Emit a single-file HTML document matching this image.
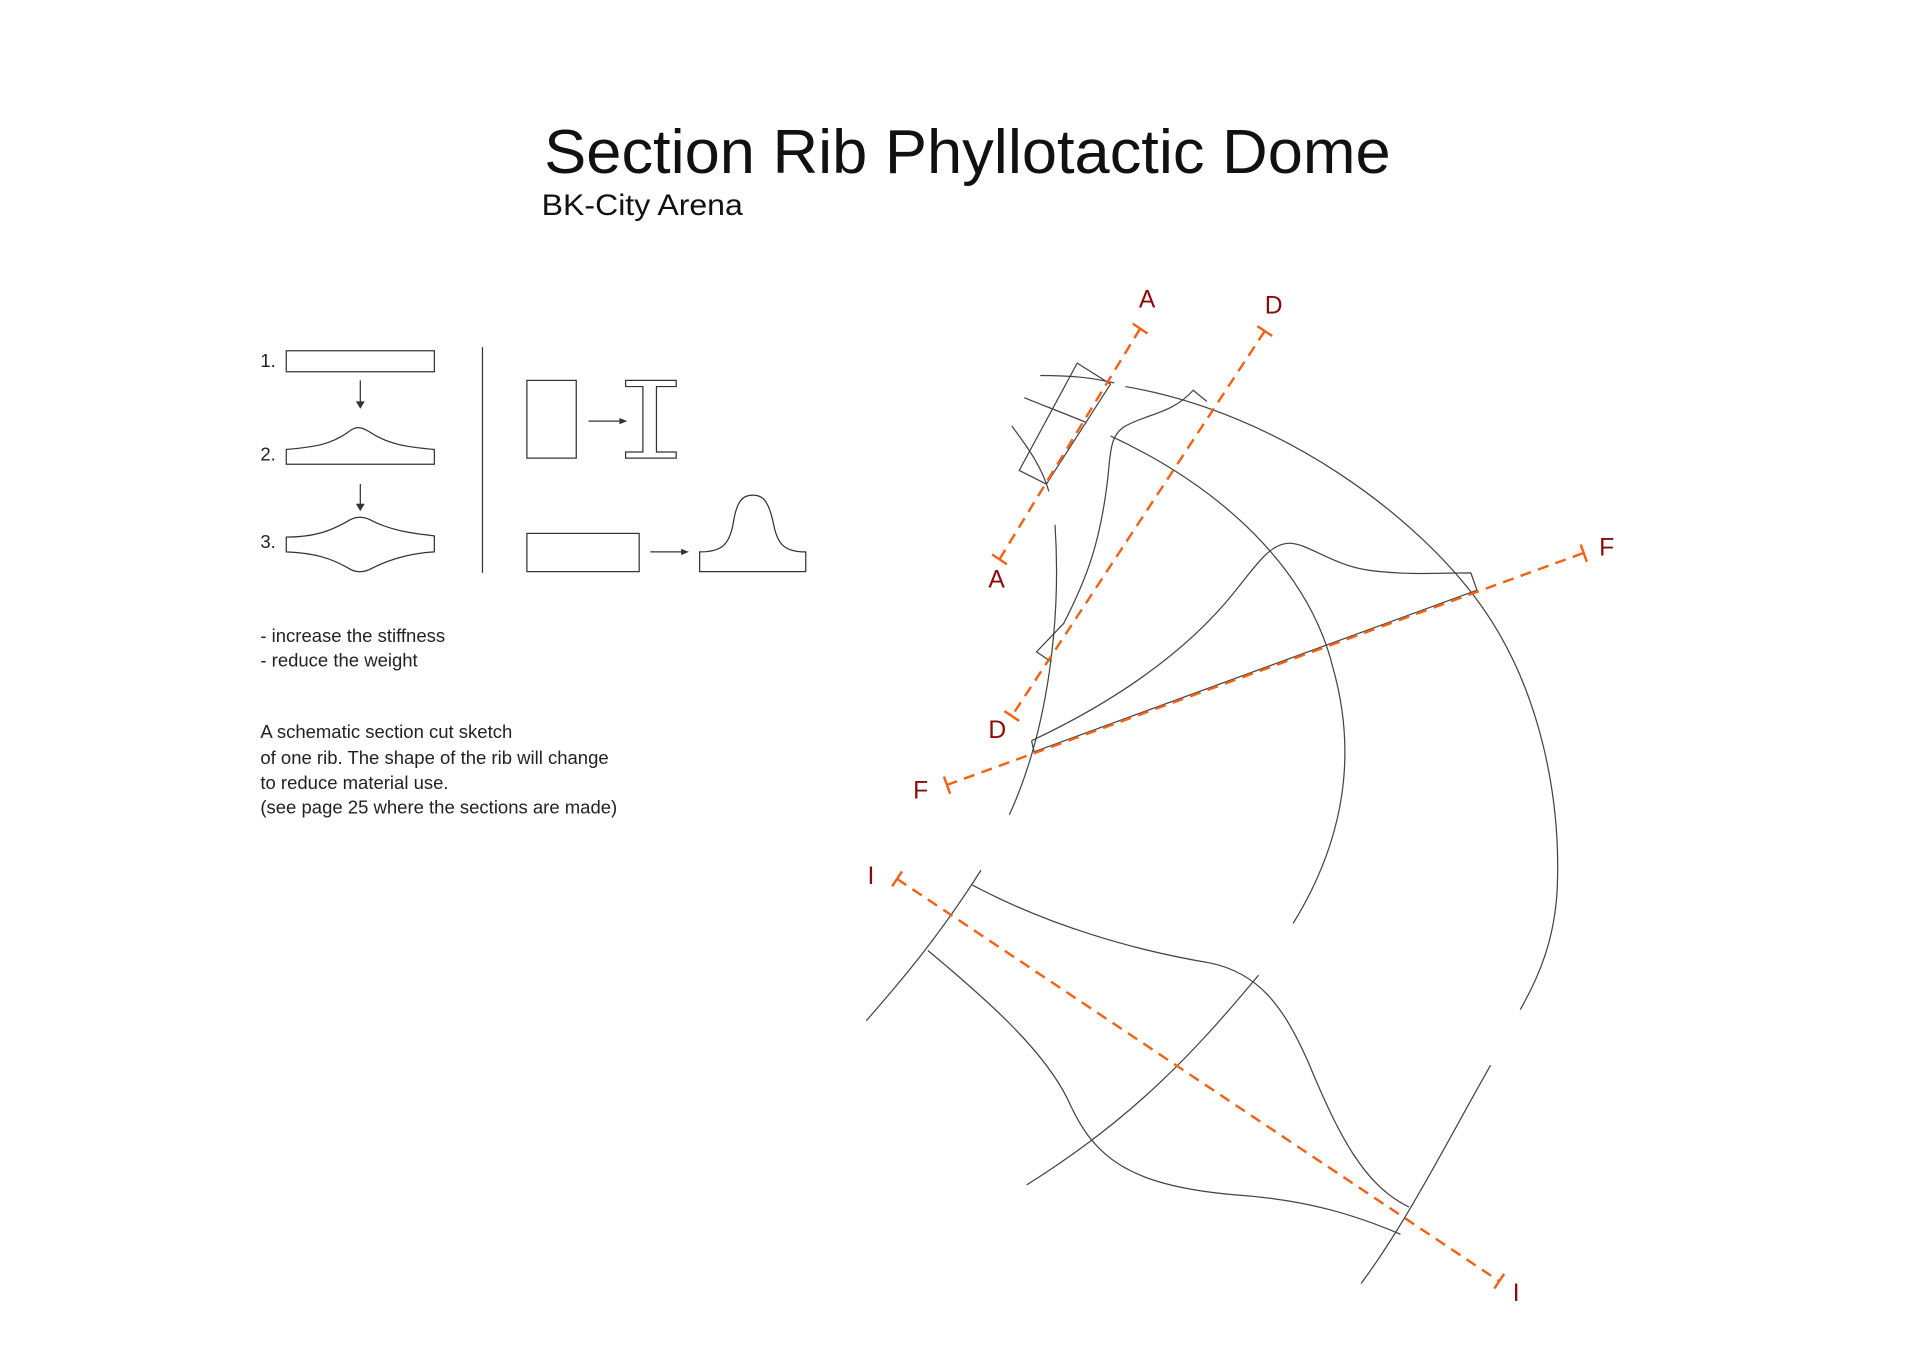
<!DOCTYPE html>
<html><head><meta charset="utf-8"><style>
html,body{margin:0;padding:0;background:#fff;}
svg{display:block}
</style></head><body>
<svg width="1920" height="1358" viewBox="0 0 1556 1100" xmlns="http://www.w3.org/2000/svg" font-family="'Liberation Sans', sans-serif">
<rect width="1556" height="1100" fill="#fff"/>
<text x="441" y="140" font-size="50" textLength="686" lengthAdjust="spacingAndGlyphs" fill="#111">Section Rib Phyllotactic Dome</text>
<text x="439" y="174" font-size="24" textLength="163" lengthAdjust="spacingAndGlyphs" fill="#111">BK-City Arena</text>

<g fill="none" stroke="#333" stroke-width="1">
<rect x="232" y="284" width="120" height="17"/>
<line x1="292" y1="308" x2="292" y2="329"/>
<path d="M289,325 L292,330 L295,325" fill="#333"/>
<path d="M232,376 L352,376 L352,364 C330,362 315,360 300,350 C292,345 288,345 282,350 C268,360 255,362 232,364 Z"/>
<line x1="292" y1="392" x2="292" y2="412"/>
<path d="M289,408 L292,413 L295,408" fill="#333"/>
<path d="M232,435 C255,435 268,430 282,422 C288,418 295,418 302,422 C318,430 335,432 352,434 L352,447 C335,448 318,452 302,460 C295,464 288,464 282,460 C268,452 255,448 232,447 Z"/>
<line x1="391" y1="281" x2="391" y2="464"/>
<rect x="427" y="308" width="40" height="63"/>
<line x1="477" y1="341" x2="505" y2="341"/>
<path d="M502,339 L507,341 L502,343" fill="#333"/>
<path d="M507,308 H548 V313 H532 V366 H548 V371 H507 V366 H521 V313 H507 Z"/>
<rect x="427" y="432" width="91" height="31"/>
<line x1="527" y1="447" x2="555" y2="447"/>
<path d="M552,445 L557,447 L552,449" fill="#333"/>
<path d="M567,463 H653 V447 C635,447 630,440 627,425 C623,405 618,401 610,401 C602,401 597,405 594,425 C591,440 586,447 567,447 Z"/>
</g>

<g font-size="15" fill="#222">
<text x="211" y="297">1.</text>
<text x="211" y="373">2.</text>
<text x="211" y="444">3.</text>
<text x="211" y="520">- increase the stiffness</text>
<text x="211" y="540">- reduce the weight</text>
<text x="211" y="598">A schematic section cut sketch</text>
<text x="211" y="619">of one rib. The shape of the rib will change</text>
<text x="211" y="639">to reduce material use.</text>
<text x="211" y="659">(see page 25 where the sections are made)</text>
</g>

<g fill="none" stroke="#444" stroke-width="1">
<path d="M912,313 C1040,335 1150,420 1200,490 C1250,560 1265,650 1262,720 C1260,760 1248,790 1232,818"/>
<path d="M900,353 C990,395 1060,460 1080,540 C1100,610 1090,680 1048,748"/>
<path d="M855,425 C860,500 850,590 818,660"/>
<path d="M820,345 C835,365 845,380 850,398"/>
<path d="M843,304 C870,304 885,306 903,310"/>
<path d="M830,322 C850,330 868,337 880,342"/>
<path d="M873,294 L900,311 L848,392 L826,381 Z"/>
<path d="M978,325 L967,316 C950,335 930,335 912,345 C900,352 900,365 898,385 C892,440 880,470 862,505 L840,528 L852,536"/>
<path d="M836,600 C900,570 960,530 1000,480 C1020,455 1030,440 1045,440 C1060,440 1080,458 1110,462 C1140,466 1170,464 1192,464 L1197,478"/>
<path d="M836,600 L838,609 L1197,478"/>
<path d="M702,827 C730,795 760,760 795,705"/>
<path d="M788,717 C850,750 920,770 980,780 C1020,788 1040,815 1060,860 C1085,920 1105,960 1142,978"/>
<path d="M752,770 C800,810 845,850 865,890 C885,935 910,960 1000,968 C1060,972 1100,985 1135,1000"/>
<path d="M1020,790 C970,850 920,905 832,960"/>
<path d="M1208,863 C1170,930 1140,990 1103,1040"/>
</g>

<g stroke="#f06418" stroke-width="2" fill="none">
<line x1="924" y1="266" x2="810" y2="453" stroke-dasharray="9,6"/>
<line x1="918" y1="262" x2="930" y2="270"/>
<line x1="804" y1="449" x2="816" y2="457"/>
<line x1="1025" y1="268" x2="820" y2="580" stroke-dasharray="9,6"/>
<line x1="1019" y1="264" x2="1031" y2="272"/>
<line x1="814" y1="576" x2="826" y2="584"/>
<line x1="1283" y1="448" x2="767" y2="636" stroke-dasharray="9,6"/>
<line x1="1281" y1="441" x2="1286" y2="455"/>
<line x1="765" y1="629" x2="770" y2="643"/>
<line x1="727" y1="712" x2="1215" y2="1038" stroke-dasharray="9,6"/>
<line x1="731" y1="706" x2="723" y2="718"/>
<line x1="1219" y1="1032" x2="1211" y2="1044"/>
</g>

<g font-size="20" fill="#8b0a0a">
<text x="923" y="249">A</text>
<text x="801" y="476">A</text>
<text x="1025" y="254">D</text>
<text x="801" y="598">D</text>
<text x="1296" y="450">F</text>
<text x="740" y="647">F</text>
<text x="703" y="716">I</text>
<text x="1226" y="1054">I</text>
</g>
</svg>
</body></html>
